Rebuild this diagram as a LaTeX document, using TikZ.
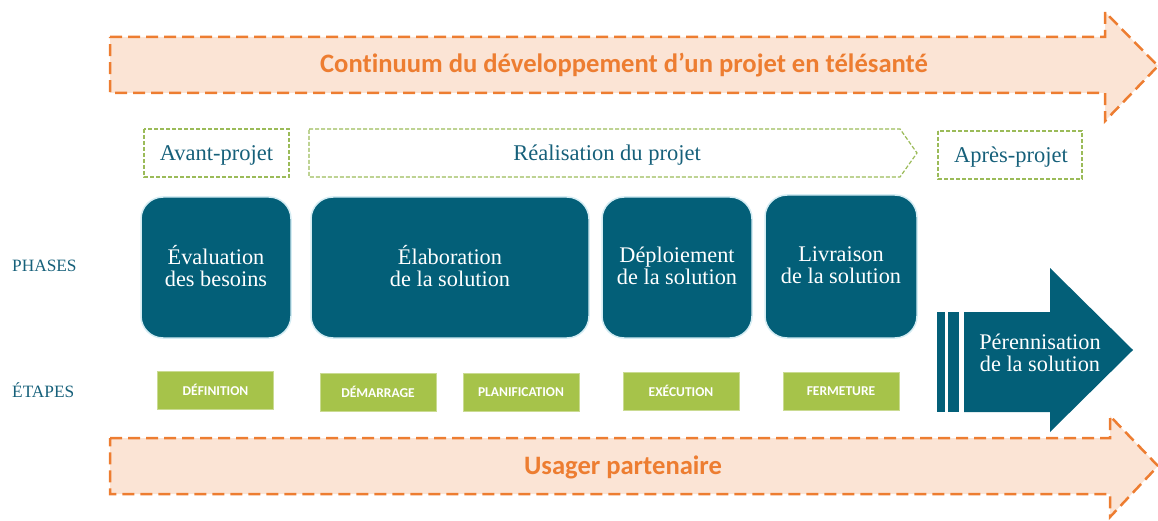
\documentclass[tikz,border=0pt]{standalone}
\usepackage{fontspec}
\setmainfont{Liberation Serif}
\newfontfamily\carl[Ligatures={NoCommon,NoRare,NoContextual}]{Carlito}
\definecolor{tealdk}{HTML}{035F78}
\definecolor{tealtx}{HTML}{16607A}
\definecolor{orline}{HTML}{ED7D31}
\definecolor{orfill}{HTML}{FBE4D5}
\definecolor{grline}{HTML}{9BBB59}
\definecolor{grfill}{HTML}{A6C34A}
\definecolor{glow}{HTML}{D4ECF3}
\tikzset{
  orarrow/.style={draw=orline, fill=orfill, line width=2.5pt, dash pattern=on 12pt off 6pt},
  ortext/.style={text=orline, font=\carl\bfseries\fontsize{26.6}{30}\selectfont},
  grdash/.style={draw=grline, line width=1.2pt, dash pattern=on 4pt off 2pt},
  headtext/.style={text=tealtx, font=\fontsize{22.5}{24}\selectfont},
  phasebox/.style={draw=glow, line width=1.5pt, fill=tealdk, rounded corners=22pt, inner sep=0pt, outer sep=0pt},
  phasetext/.style={text=white, align=center, font=\fontsize{22.3}{22}\selectfont},
  stepbox/.style={draw=grfill!60!white, line width=0.8pt, fill=grfill, minimum width=116pt, minimum height=38pt,
     inner sep=0pt, text=white, font=\carl\bfseries\fontsize{13.5}{15}\selectfont},
  sidelabel/.style={text=tealtx, anchor=west, inner sep=0pt, font=\fontsize{17.3}{19}\selectfont},
}
\begin{document}
\begin{tikzpicture}[x=1pt,y=-1pt]
\useasboundingbox (0,0) rectangle (1158,521);
% top orange arrow
\draw[orarrow] (110,37) -- (1105,37) -- (1105,12) -- (1158,66) -- (1105,121) -- (1105,93) -- (110,93) -- cycle;
\node[ortext] (cont) at (624,65) {Continuum du développement d’un projet en télésanté};
% bottom orange arrow
\draw[orarrow] (110,438) -- (1110,438) -- (1110,416) -- (1158,466) -- (1110,517) -- (1110,494) -- (110,494) -- cycle;
\node[ortext] (usager) at (623,467) {Usager partenaire};
% green dashed headers
\draw[grdash] (144,129) rectangle (289,177);
\node[headtext] (avant) at (216.5,155) {Avant-projet};
\draw[grdash] (309,129) -- (900,129) -- (917,153) -- (900,177) -- (309,177) -- cycle;
\node[headtext] (real) at (607,155) {Réalisation du projet};
\draw[grdash] (938,131) rectangle (1082,179);
\node[headtext] (apres) at (1011,157) {Après-projet};
% side labels
\node[sidelabel] (phases) at (12,266) {PHASES};
\node[sidelabel] (etapes) at (12,390) {ÉTAPES};
% phase boxes
\node[phasebox, minimum width=150pt, minimum height=141pt] (p1) at (216,267.5) {};
\node[phasetext] (p1t) at (p1.center) [yshift=1.5pt] {Évaluation\\des besoins};
\node[phasebox, minimum width=278pt, minimum height=141pt] (p2) at (450,267.5) {};
\node[phasetext] (p2t) at (p2.center) [yshift=1.5pt] {Élaboration\\de la solution};
\node[phasebox, minimum width=150pt, minimum height=141pt] (p3) at (677,267.5) {};
\node[phasetext] (p3t) at (p3.center) [yshift=1.5pt] {Déploiement\\de la solution};
\node[phasebox, minimum width=152pt, minimum height=143pt] (p4) at (841,266.5) {};
\node[phasetext] (p4t) at (p4.center) [yshift=1.5pt] {Livraison\\de la solution};
% step boxes
\node[stepbox] (s1) at (215.5,390) {DÉFINITION};
\node[stepbox] (s2) at (378,392) {DÉMARRAGE};
\node[stepbox] (s3) at (521,392) {PLANIFICATION};
\node[stepbox] (s4) at (681,391) {EXÉCUTION};
\node[stepbox] (s5) at (841,391) {FERMETURE};
% perennisation arrow
\fill[tealdk] (937,312) rectangle (945,412);
\fill[tealdk] (948,312) rectangle (959,412);
\fill[tealdk] (964,312) -- (1050,312) -- (1050,268) -- (1133,350) -- (1050,432) -- (1050,412) -- (964,412) -- cycle;
\node[phasetext] (peren) at (1040,353) {Pérennisation\\de la solution};
\end{tikzpicture}
\end{document}
